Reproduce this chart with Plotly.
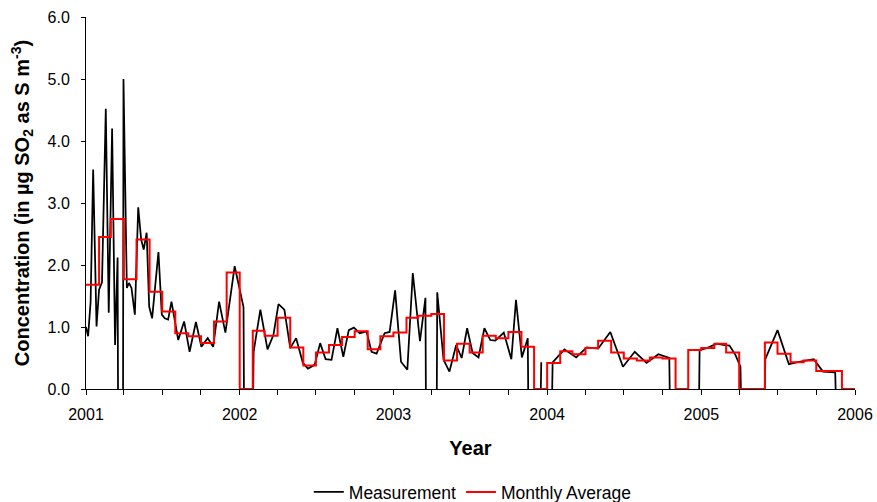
import plotly.graph_objects as go
import pandas as pd

# ---- Measurement series (None = gap in record) ----
meas_dates = [
    "2001-01-01", "2001-01-06", "2001-01-12", "2001-01-18", "2001-01-26",
    "2001-02-01", "2001-02-08", "2001-02-17", "2001-02-24", "2001-03-04",
    "2001-03-11", "2001-03-17", "2001-03-18", "2001-03-24", "2001-03-30",
    "2001-03-31", "2001-04-08", "2001-04-13", "2001-04-19", "2001-04-27",
    "2001-05-05", "2001-05-12", "2001-05-18", "2001-05-25", "2001-05-31",
    "2001-06-07", "2001-06-22", "2001-06-30", "2001-07-07", "2001-07-15",
    "2001-07-23", "2001-08-08", "2001-08-22", "2001-09-04", "2001-09-19",
    "2001-10-02", "2001-10-17", "2001-10-30", "2001-11-13", "2001-11-28",
    "2001-12-20", "2002-01-10", "2002-01-11", "2002-01-20", "2002-02-02",
    "2002-02-03", "2002-02-19", "2002-03-08", "2002-03-22", "2002-04-03",
    "2002-04-17", "2002-05-01", "2002-05-15", "2002-05-31", "2002-06-12",
    "2002-06-28", "2002-07-11", "2002-07-24", "2002-08-07", "2002-08-21",
    "2002-09-04", "2002-09-17", "2002-09-29", "2002-10-13", "2002-10-29",
    "2002-11-10", "2002-11-22", "2002-12-11", "2002-12-23", "2003-01-05",
    "2003-01-19", "2003-02-03", "2003-02-16", "2003-03-05", "2003-03-18",
    "2003-03-19", "2003-04-01", "2003-04-14", "2003-04-15", "2003-04-30",
    "2003-05-14", "2003-05-30", "2003-06-12", "2003-06-25", "2003-07-08",
    "2003-07-22", "2003-08-05", "2003-08-19", "2003-08-31", "2003-09-20",
    "2003-10-08", "2003-10-19", "2003-11-02", "2003-11-16", "2003-11-17",
    "2003-12-01", "2003-12-17", "2003-12-18", "2003-12-30", "2004-01-13",
    "2004-01-14", "2004-02-11", "2004-03-10", "2004-04-04", "2004-05-01",
    "2004-05-30", "2004-06-29", "2004-07-27", "2004-08-24", "2004-09-21",
    "2004-10-17", "2004-10-18", "2004-11-20", "2004-12-27", "2004-12-28",
    "2005-01-14", "2005-02-07", "2005-02-22", "2005-03-09", "2005-03-23",
    "2005-04-04", "2005-04-05", "2005-05-01", "2005-06-01", "2005-06-02",
    "2005-07-01", "2005-07-28", "2005-08-15", "2005-09-08", "2005-09-25",
    "2005-10-17", "2005-11-15", "2005-11-16",
]
meas_values = [
    1.00, 0.85, 1.41, 3.54, 1.01,
    1.60, 1.72, 4.52, 1.23, 4.20,
    0.71, 2.12, 0.00, None, 0.00,
    5.00, 1.63, 1.71, 1.63, 1.20,
    2.93, 2.41, 2.25, 2.52, 1.33,
    1.14, 2.21, 1.20, 1.14, 1.12,
    1.41, 0.79, 1.09, 0.60, 1.08,
    0.68, 0.82, 0.68, 1.41, 0.91,
    1.98, 1.32, 0.00, None, 0.00,
    0.60, 1.28, 0.64, 0.87, 1.37,
    1.28, 0.66, 0.82, 0.42, 0.33,
    0.39, 0.74, 0.48, 0.47, 0.98,
    0.52, 0.95, 0.99, 0.90, 0.93,
    0.60, 0.57, 0.90, 0.92, 1.59,
    0.44, 0.31, 1.87, 0.77, 1.47,
    0.00, None, 0.00, 1.56, 0.47,
    0.28, 0.71, 0.50, 0.98, 0.58,
    0.51, 0.98, 0.79, 0.78, 0.91,
    0.48, 1.44, 0.51, 0.82, 0.00,
    None, 0.00, 0.43, None, 0.00,
    0.43, 0.64, 0.51, 0.67, 0.65,
    0.92, 0.36, 0.60, 0.42, 0.56,
    0.50, 0.00, None, 0.00, 0.63,
    0.66, 0.73, 0.71, 0.70, 0.55,
    0.36, 0.00, None, 0.00, 0.48,
    0.95, 0.40, 0.43, 0.46, 0.48,
    0.28, 0.27, 0.00,
]

# ---- Monthly averages, Jan 2001 .. Dec 2005 ----
monthly_avg = [
    1.68, 2.45, 2.74, 1.77, 2.41, 1.57, 1.25, 0.90, 0.85, 0.74, 1.09, 1.88,
    0.00, 0.94, 0.86, 1.15, 0.67, 0.38, 0.59, 0.71, 0.84, 0.93, 0.64, 0.85,
    0.91, 1.15, 1.18, 1.21, 0.46, 0.73, 0.59, 0.86, 0.82, 0.92, 0.68, 0.00,
    0.42, 0.61, 0.56, 0.66, 0.78, 0.59, 0.49, 0.46, 0.51, 0.49, 0.00, 0.63,
    0.66, 0.73, 0.59, 0.00, 0.00, 0.75, 0.57, 0.43, 0.46, 0.29, 0.29, 0.00,
]
month_starts = pd.date_range("2001-01-01", periods=len(monthly_avg) + 1, freq="MS")
step_y = monthly_avg + [monthly_avg[-1]]

year_ticks = ["2001", "2002", "2003", "2004", "2005", "2006"]

FONT = "Liberation Sans, Arial, sans-serif"

fig = go.Figure()
fig.add_trace(go.Scatter(
    x=pd.to_datetime(meas_dates), y=meas_values, mode="lines",
    name="Measurement", line=dict(color="black", width=1.75),
    connectgaps=False,
))
fig.add_trace(go.Scatter(
    x=month_starts, y=step_y, mode="lines", line_shape="hv",
    name="Monthly Average", line=dict(color="#ff0000", width=2),
))

fig.update_layout(
    width=877, height=502,
    margin=dict(l=86, r=22, t=17, b=113, autoexpand=False),
    paper_bgcolor="white", plot_bgcolor="white",
    font=dict(family=FONT, size=16, color="black"),
    showlegend=True,
    legend=dict(orientation="h", x=0.503, xanchor="center", y=-0.277,
                yanchor="middle", font=dict(size=17.5), itemwidth=30,
                bgcolor="rgba(0,0,0,0)", tracegroupgap=0),
    xaxis=dict(
        type="date", range=["2001-01-01", "2006-01-01"],
        tickvals=[pd.Timestamp(y + "-01-01") for y in year_ticks],
        ticktext=year_ticks,
        ticks="outside", ticklen=5, tickcolor="black", tickwidth=1,
        minor=dict(dtick="M3", tick0="2001-01-01", ticks="outside",
                   ticklen=5, tickcolor="black", tickwidth=1, showgrid=False),
        showline=True, linecolor="black", linewidth=1,
        showgrid=False, zeroline=False, automargin=False,
        tickfont=dict(size=16), ticklabelstandoff=6,
        title=dict(text="<b>Year</b>", font=dict(size=20), standoff=18),
    ),
    yaxis=dict(
        range=[0, 6], dtick=1, tickformat=".1f",
        ticks="outside", ticklen=4, tickcolor="black", tickwidth=1,
        showline=True, linecolor="black", linewidth=1,
        showgrid=False, zeroline=False, automargin=False,
        tickfont=dict(size=16), ticklabelstandoff=8,
        title=dict(text="<b>Concentration (in µg SO<sub>2</sub> as S m<sup>-3</sup>)</b>",
                   font=dict(size=20), standoff=12),
    ),
)

# remove the page's default body margin so the figure fills the window exactly
fig.write_html("out.html", config={"displayModeBar": False},
               post_script="document.body.style.margin='0';")
